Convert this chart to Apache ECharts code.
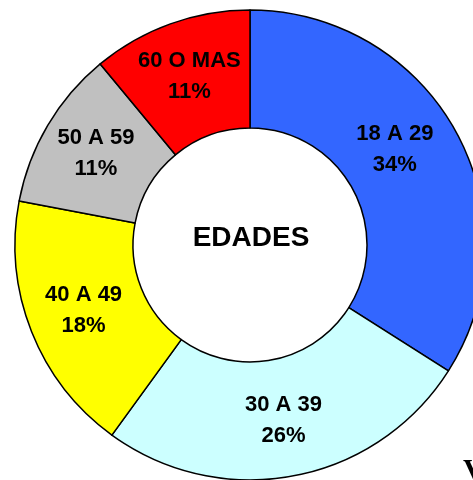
<!DOCTYPE html>
<html>
<head>
<meta charset="utf-8">
<title>Edades</title>
<script src="https://cdn.jsdelivr.net/npm/echarts@6/dist/echarts.min.js"></script>
<style>
  html, body { margin: 0; padding: 0; background: #fff; }
  #chart { width: 473px; height: 480px; }
</style>
</head>
<body>
<div id="chart"></div>
<script>
// datos
const categories = ['18 A 29', '30 A 39', '40 A 49', '50 A 59', '60 O MAS']
const percents = [34, 26, 18, 11, 11]
const colors = ['#3366FF', '#CCFFFF', '#FFFF00', '#C0C0C0', '#FF0000']

const chart = echarts.init(document.getElementById('chart'))

const option = {
  animation: false,
  backgroundColor: '#fff',
  graphic: [
    {
      type: 'text',
      x: 251,
      y: 238,
      style: {
        text: 'EDADES',
        font: 'bold 28px "Liberation Sans", Arial, sans-serif',
        fill: '#000',
        align: 'center',
        verticalAlign: 'middle'
      }
    },
    {
      // letra cortada en la esquina
      type: 'text',
      x: 463,
      y: 456,
      style: {
        text: 'V',
        font: 'bold 30px "Liberation Serif", "Times New Roman", serif',
        fill: '#000'
      }
    }
  ],
  series: [
    {
      type: 'pie',
      center: [250, 245],
      radius: [117, 235],
      startAngle: 90,
      clockwise: true,
      avoidLabelOverlap: false,
      itemStyle: {
        borderColor: '#000',
        borderWidth: 1.5
      },
      label: {
        show: true,
        position: 'inside',
        formatter: (p) => p.name + '\n' + p.value + '%',
        color: '#000',
        fontFamily: '"Liberation Sans", Arial, sans-serif',
        fontWeight: 'bold',
        fontSize: 22,
        lineHeight: 31
      },
      labelLine: { show: false },
      emphasis: { disabled: true },
      data: categories.map((name, i) => ({
        name: name,
        value: percents[i],
        itemStyle: { color: colors[i] },
        // la etiqueta del primer sector esta algo mas arriba
        label: i === 0 ? { offset: [-12, -9] } : {}
      }))
    }
  ]
}

chart.setOption(option)
</script>
</body>
</html>
